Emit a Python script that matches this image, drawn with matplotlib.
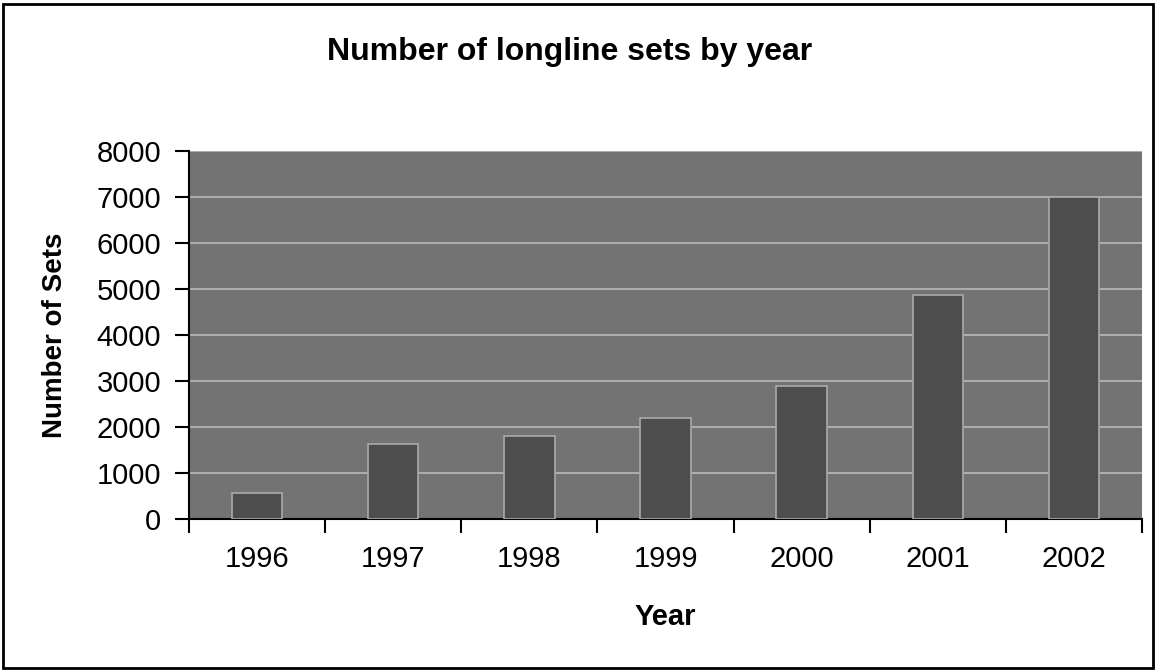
import matplotlib
matplotlib.use("Agg")
import matplotlib.pyplot as plt
from matplotlib.patches import Rectangle

# data
years = ["1996", "1997", "1998", "1999", "2000", "2001", "2002"]
sets = [560, 1620, 1800, 2200, 2900, 4880, 7000]
y_ticks = [0, 1000, 2000, 3000, 4000, 5000, 6000, 7000, 8000]

plt.rcParams['font.family'] = ['Liberation Sans', 'DejaVu Sans']

fig = plt.figure(figsize=(11.57, 6.72), dpi=100)
ax = fig.add_axes([189 / 1157, 1 - 519 / 672, 953 / 1157, 368 / 672])

ax.set_facecolor('#737373')
x = list(range(len(years)))
ax.bar(x, sets, width=0.37, color='#4d4d4d', edgecolor='#aaaaaa', linewidth=1.2, zorder=3)

ax.set_xlim(-0.5, len(years) - 0.5)
ax.set_ylim(0, 8000)
ax.set_yticks(y_ticks)
ax.set_yticklabels([str(v) for v in y_ticks])
ax.yaxis.grid(True, color='#b8b8b8', linewidth=1.2, zorder=1)
ax.set_axisbelow(True)

# category labels in the middle, tick marks on the boundaries
ax.set_xticks(x)
ax.set_xticklabels(years)
ax.set_xticks([i - 0.5 for i in range(len(years) + 1)], minor=True)
ax.tick_params(axis='x', which='major', length=0, pad=19, labelsize=21)
ax.tick_params(axis='x', which='minor', length=10, width=1.5, direction='out')
ax.tick_params(axis='y', length=10, width=1.5, direction='out', pad=10, labelsize=21)

for s in ['top', 'right']:
    ax.spines[s].set_visible(False)
ax.spines['left'].set_linewidth(1.5)
ax.spines['bottom'].set_linewidth(1.5)

ax.set_ylabel("Number of Sets", fontsize=20, fontweight='bold')
ax.yaxis.set_label_coords(-0.127, 0.5)
ax.set_xlabel("Year", fontsize=21, fontweight='bold')
ax.xaxis.set_label_coords(0.5, -0.228)

fig.text(570 / 1157, 1 - 52 / 672, "Number of longline sets by year",
         ha='center', va='center', fontsize=23, fontweight='bold')

# outer chart border
fig.patches.append(Rectangle((3 / 1157, 4 / 672), 1150 / 1157, 664 / 672,
                             transform=fig.transFigure, fill=False,
                             edgecolor='black', linewidth=2))

fig.savefig("out.png", dpi=100)
